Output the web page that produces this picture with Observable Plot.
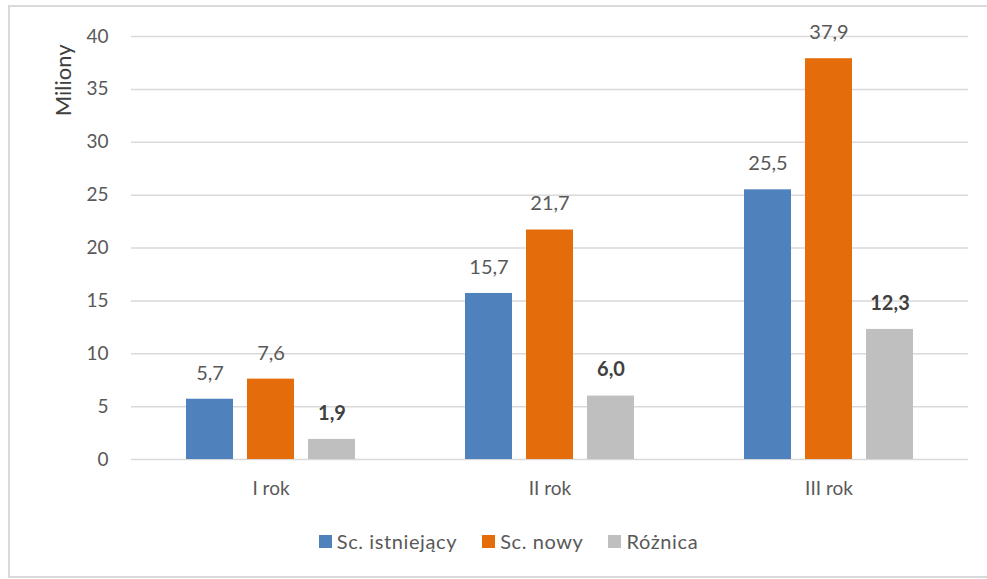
<!DOCTYPE html>
<html>
<head>
<meta charset="utf-8">
<script src="https://cdn.jsdelivr.net/npm/d3@7"></script>
<script src="https://cdn.jsdelivr.net/npm/@observablehq/plot@0.6"></script>
<style>
  html, body { margin: 0; padding: 0; background: #fff; }
  #wrap { position: relative; width: 987px; height: 579px; overflow: hidden; font-family: Lato, "Open Sans", sans-serif; }
  #frame { position: absolute; left: 8px; top: 5px; width: 995px; height: 573px; border: 2px solid #d9d9d9; box-sizing: border-box; pointer-events: none; }
  #legend { display: flex; justify-content: center; align-items: center; gap: 25px; height: 52px; font-size: 20px; letter-spacing: 0.6px; color: #595959; padding-left: 30px; }
  .item { display: flex; align-items: center; gap: 5px; }
  .sw { width: 13px; height: 13px; display: inline-block; }
</style>
</head>
<body>
<div id="wrap">
  <div id="chart"></div>
  <div id="legend"></div>
  <div id="frame"></div>
</div>
<script>
const groups = ["I rok", "II rok", "III rok"];
const series = ["Sc. istniejący", "Sc. nowy", "Różnica"];
const istniejacy = [5.7, 15.7, 25.5];
const nowy = [7.6, 21.7, 37.9];
const roznica = [1.9, 6.0, 12.3];
const yTicks = [0, 5, 10, 15, 20, 25, 30, 35, 40];
const colors = ["#4f81bd", "#e46c0a", "#bfbfbf"];

const seriesValues = [istniejacy, nowy, roznica];
const data = [];
groups.forEach((g, gi) => {
  series.forEach((s, si) => {
    data.push({group: g, series: s, value: seriesValues[si][gi]});
  });
});

const fmt = v => v.toFixed(1).replace(".", ",");

const chart = Plot.plot({
  width: 987,
  height: 515,
  marginLeft: 130,
  marginRight: 18,
  marginTop: 36,
  marginBottom: 56,
  style: { fontFamily: "Lato, 'Open Sans', sans-serif", fontSize: "19px", color: "#595959", background: "#fff" },
  fx: { domain: groups, padding: 0, label: null },
  x: { domain: series, paddingInner: 0.226, paddingOuter: 0.87, axis: null },
  y: { domain: [0, 40], label: null },
  color: { domain: series, range: colors },
  marks: [
    Plot.gridY(yTicks, { stroke: "#d9d9d9", strokeOpacity: 1, strokeWidth: 1.5 }),
    Plot.axisY(yTicks, { tickSize: 0, tickPadding: 23, fontSize: 19, fill: "#595959", label: null, tickFormat: d => String(d) }),
    Plot.axisFx({ anchor: "bottom", tickSize: 0, tickPadding: 22, fontSize: 19, fill: "#595959", label: null }),
    Plot.barY(data, { fx: "group", x: "series", y: "value", fill: "series" }),
    Plot.text(data.filter(d => d.series !== "Różnica"), {
      fx: "group", x: "series", y: "value", text: d => fmt(d.value),
      dy: -26, fontSize: 20, fill: "#595959"
    }),
    Plot.text(data.filter(d => d.series === "Różnica"), {
      fx: "group", x: "series", y: "value", text: d => fmt(d.value),
      dy: -26, fontSize: 20, fontWeight: "bold", fill: "#404040"
    }),
    Plot.text(["Miliony"], {
      fx: () => groups[0], frameAnchor: "top-left", text: d => d,
      rotate: -90, textAnchor: "end", lineAnchor: "middle",
      dx: -68, dy: 8, fontSize: 22, fill: "#404040"
    })
  ]
});
document.getElementById("chart").appendChild(chart);

const legend = document.getElementById("legend");
series.forEach((s, i) => {
  const item = document.createElement("div");
  item.className = "item";
  const sw = document.createElement("span");
  sw.className = "sw";
  sw.style.background = colors[i];
  const label = document.createElement("span");
  label.textContent = s;
  item.appendChild(sw);
  item.appendChild(label);
  legend.appendChild(item);
});
</script>
</body>
</html>
